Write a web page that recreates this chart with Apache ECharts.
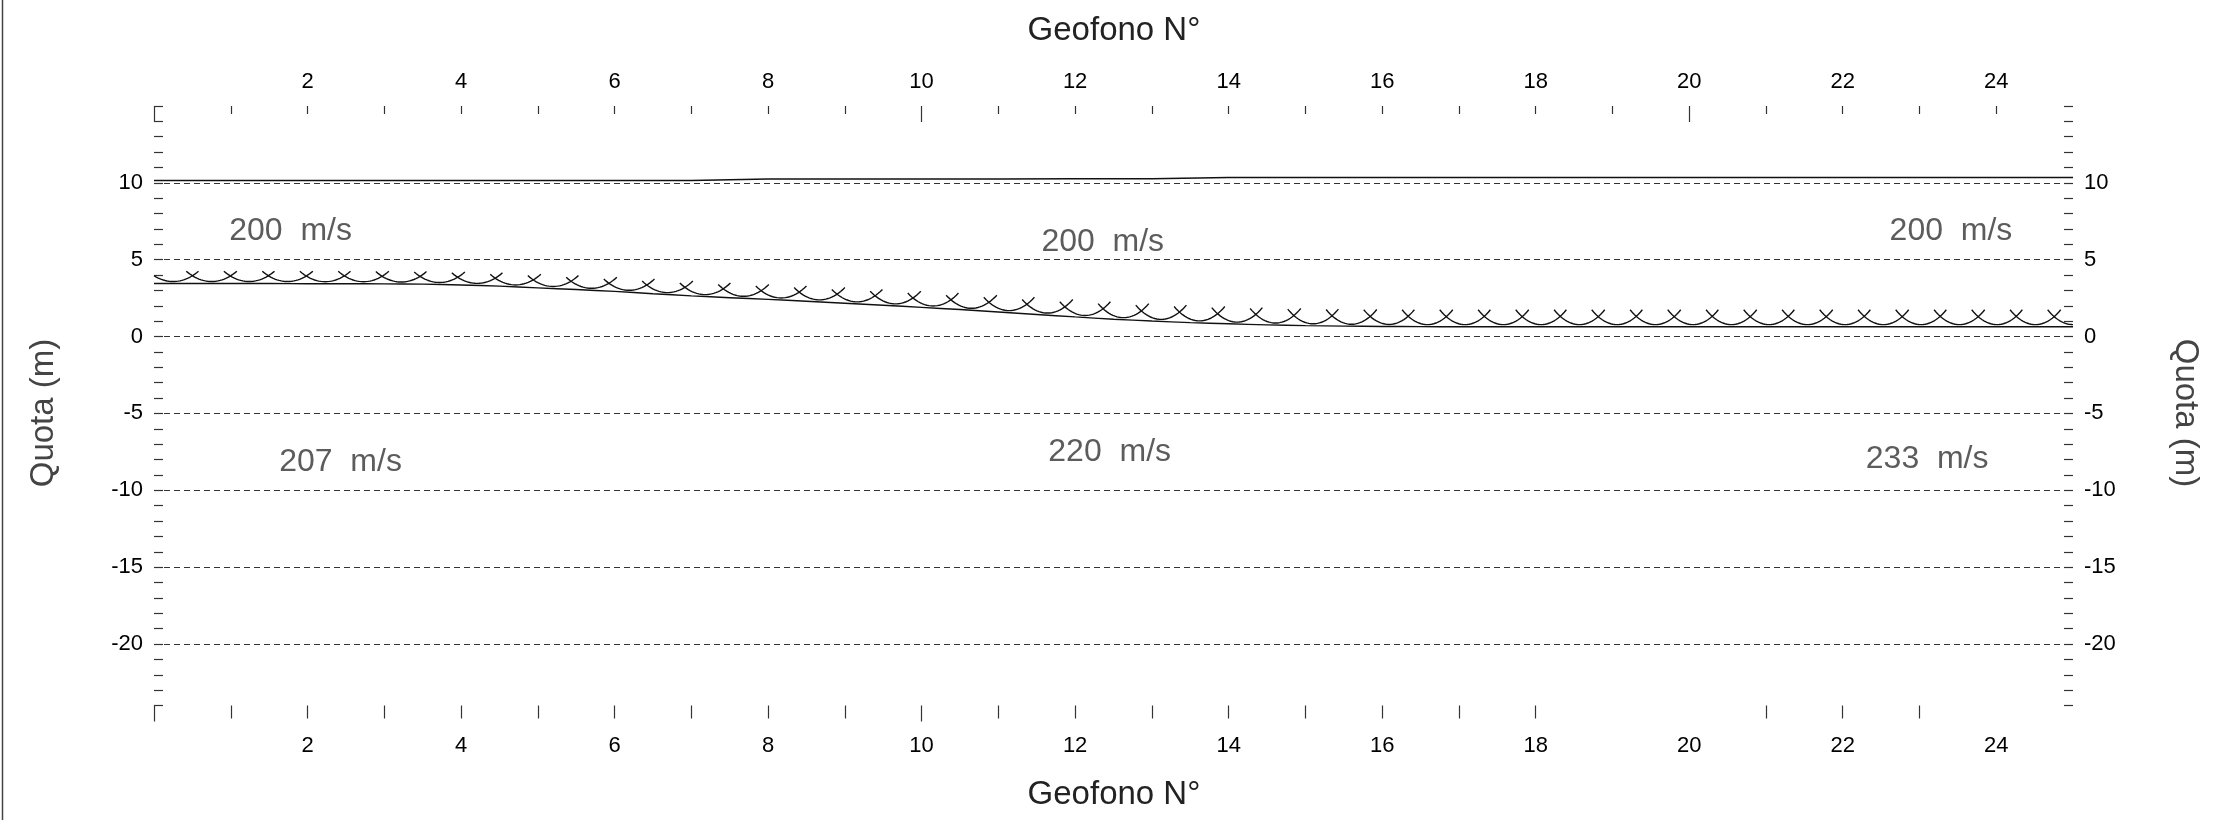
<!DOCTYPE html>
<html><head><meta charset="utf-8">
<script src="https://cdn.jsdelivr.net/npm/echarts@6/dist/echarts.min.js"></script>
<style>html,body{margin:0;padding:0;background:#fff}#c{width:2224px;height:820px}</style>
</head><body><div id="c"></div>
<script>
// ---- data ----
const geofonoLabels = [2,4,6,8,10,12,14,16,18,20,22,24];
const topTicks = [1,2,3,4,5,6,7,8,9,11,12,13,14,15,16,17,18,19,21,22,23,24];
const topLongTicks = [0,10,20];
const bottomTicks = [1,2,3,4,5,6,7,8,9,11,12,13,14,15,16,17,18,21,22,23];
const bottomLongTicks = [0,10];
const quotaLabels = [-20,-15,-10,-5,0,5,10];
const gridLevels = [10,5,0,-5,-10,-15,-20];

const topoX = [0,1,2,3,4,5,6,7,8,9,10,11,12,13,14,15,16,17,18,19,20,21,22,23,24,25];
const topoY = [10.15,10.15,10.15,10.15,10.15,10.15,10.15,10.15,10.25,10.25,10.25,10.25,10.26,10.27,10.35,10.35,10.35,10.35,10.35,10.35,10.35,10.35,10.35,10.35,10.35,10.35];

const refrX = [0,0.5,1,1.5,2,2.5,3,3.5,4,4.5,5,5.5,6,6.5,7,7.5,8,8.5,9,9.5,10,10.5,11,11.5,12,12.5,13,13.5,14,14.5,15,15.5,16,16.5,17,18,19,20,21,22,23,24,25];
const refrY = [3.45,3.45,3.45,3.45,3.44,3.44,3.43,3.41,3.36,3.28,3.17,3.06,2.94,2.79,2.65,2.53,2.42,2.30,2.17,2.04,1.90,1.76,1.60,1.44,1.28,1.13,1.01,0.91,0.83,0.76,0.71,0.68,0.66,0.65,0.64,0.64,0.64,0.64,0.64,0.64,0.64,0.64,0.64];

const arcX = [0.25,0.75,1.24,1.74,2.23,2.73,3.22,3.72,4.21,4.71,5.20,5.70,6.19,6.69,7.18,7.68,8.17,8.67,9.16,9.66,10.15,10.65,11.14,11.64,12.13,12.63,13.12,13.62,14.11,14.61,15.10,15.60,16.09,16.59,17.08,17.58,18.07,18.57,19.06,19.56,20.05,20.55,21.04,21.54,22.03,22.53,23.02,23.52,24.01,24.51,25.00];
const arcBottom = [3.58,3.58,3.58,3.58,3.57,3.57,3.55,3.52,3.46,3.36,3.26,3.14,3.01,2.86,2.73,2.62,2.51,2.39,2.26,2.13,1.99,1.84,1.69,1.53,1.37,1.23,1.12,1.02,0.94,0.88,0.83,0.80,0.79,0.78,0.78,0.78,0.78,0.78,0.78,0.78,0.78,0.78,0.78,0.78,0.78,0.78,0.78,0.78,0.78,0.78,0.78];

const velText = ['200  m/s','200  m/s','200  m/s','207  m/s','220  m/s','233  m/s'];
const velX = [1.78, 12.36, 23.41, 2.43, 12.45, 23.10];
const velY = [6.87, 6.12, 6.85, -8.15, -7.55, -8.0];

// ---- style constants ----
const FONT = 'Liberation Sans, Arial, sans-serif';
const ARC_TOP = 10.2, ARC_SEMI_X = 0.75, ARC_SPAN = 0.33, ARC_STEPS = 24;
const XMIN = 0, XMAX = 25, YMIN = -24, YMAX = 15;

const chart = echarts.init(document.getElementById('c'), null, {renderer:'canvas'});
const tickStyle = {color:'#333', width:1.2};
const lblStyle = {color:'#000', fontSize:22, fontFamily:FONT};

function xAx(pos, ticks, len, inside, labels, margin) {
  return {
    type:'value', position:pos, min:XMIN, max:XMAX, interval:1,
    axisLine:{show:false, onZero:false}, splitLine:{show:false},
    axisTick:{show:true, inside:inside, length:len, customValues:ticks, lineStyle:tickStyle},
    axisLabel: labels ? Object.assign({show:true, customValues:labels, margin:margin}, lblStyle) : {show:false}
  };
}
function yAx(pos) {
  return {
    type:'value', position:pos, min:YMIN, max:YMAX, interval:1,
    axisLine:{show:false, onZero:false}, splitLine:{show:false},
    axisTick:{show:true, inside:true, length:9, lineStyle:tickStyle},
    axisLabel:Object.assign({show:true, customValues:quotaLabels, margin:11}, lblStyle)
  };
}

const option = {
  animation:false,
  backgroundColor:'#fff',
  grid:{left:154, right:151, top:106, bottom:114.5, containLabel:false},
  xAxis:[
    xAx('bottom', bottomTicks, 13, false, geofonoLabels, 29),
    xAx('top', topTicks, 8, true, geofonoLabels, 13),
    xAx('top', topLongTicks, 16, true, null, 0),
    xAx('bottom', bottomLongTicks, 16, false, null, 0)
  ],
  yAxis:[ yAx('left'), yAx('right') ],
  series:[
    {
      type:'line', name:'topografia', data:topoX.map((x,i)=>[x,topoY[i]]),
      showSymbol:false, symbol:'none', lineStyle:{color:'#111', width:1.5}, silent:true,
      markLine:{
        silent:true, symbol:'none', label:{show:false},
        lineStyle:{color:'#333', width:1.1, type:[6,4]},
        data: gridLevels.map(v=>({yAxis:v}))
      }
    },
    {
      type:'line', name:'rifrattore', data:refrX.map((x,i)=>[x,refrY[i]]),
      showSymbol:false, symbol:'none', smooth:0.3, lineStyle:{color:'#111', width:1.4}, silent:true
    },
    {
      type:'custom', name:'archi', data:arcX.map((x,i)=>[x,arcBottom[i]]), silent:true,
      renderItem:function(params, api){
        const c = api.value(0), yb = api.value(1);
        const D = ARC_TOP - yb;
        const a = Math.max(-ARC_SPAN, XMIN - c), b = Math.min(ARC_SPAN, XMAX - c);
        const pts = [];
        for (let i=0;i<=ARC_STEPS;i++){
          const dx = a + (b-a)*i/ARC_STEPS;
          const y = ARC_TOP - D*Math.sqrt(1-(dx/ARC_SEMI_X)*(dx/ARC_SEMI_X));
          pts.push(api.coord([c+dx, y]));
        }
        return {type:'polyline', shape:{points:pts}, style:{stroke:'#111', lineWidth:1.4, fill:null}};
      }
    },
    {
      type:'scatter', name:'velocita', silent:true, symbolSize:1,
      itemStyle:{color:'rgba(0,0,0,0)'},
      data: velX.map((x,i)=>({value:[x, velY[i]], name:velText[i]})),
      label:{show:true, position:'inside', formatter:'{b}', color:'#333', fontSize:32, fontFamily:FONT}
    }
  ],
  graphic:[
    {type:'line', shape:{x1:2.5, y1:0, x2:2.5, y2:820}, style:{stroke:'#444', lineWidth:1.5}, silent:true},
    {type:'text', x:1114, y:31, style:{text:'Geofono N°', font:'33px '+FONT, fill:'#222', textAlign:'center', textVerticalAlign:'middle'}},
    {type:'text', x:1114, y:795, style:{text:'Geofono N°', font:'33px '+FONT, fill:'#222', textAlign:'center', textVerticalAlign:'middle'}},
    {type:'text', x:43.5, y:413, rotation:Math.PI/2, style:{text:'Quota (m)', font:'33px '+FONT, fill:'#444', textAlign:'center', textVerticalAlign:'middle'}},
    {type:'text', x:2185, y:413, rotation:-Math.PI/2, style:{text:'Quota (m)', font:'33px '+FONT, fill:'#444', textAlign:'center', textVerticalAlign:'middle'}}
  ]
};
chart.setOption(option);
</script></body></html>
